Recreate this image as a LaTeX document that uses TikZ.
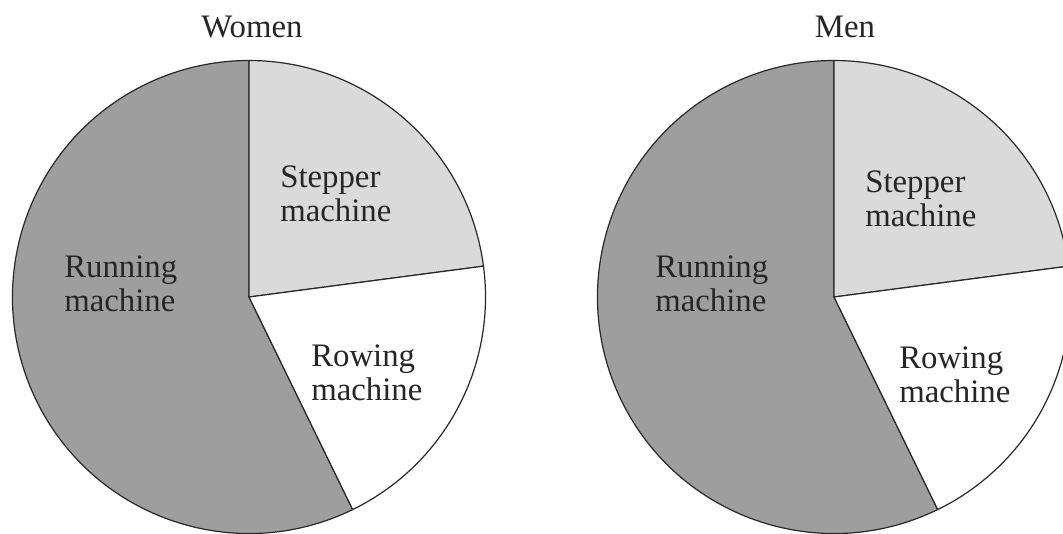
\documentclass[tikz,border=0pt]{standalone}
\usepackage{fontspec}
\setmainfont{Liberation Serif}
\definecolor{runcol}{RGB}{158,158,158}
\definecolor{stepcol}{RGB}{218,218,218}
\definecolor{rowcol}{RGB}{255,255,255}
\definecolor{linecol}{RGB}{40,40,40}
\begin{document}
\begin{tikzpicture}[x=0.75pt,y=0.75pt,
  slice/.style={draw=linecol,line width=0.9pt,line join=round},
  lbl/.style={anchor=base west,inner sep=0pt,align=left,text=black!85,font=\fontsize{24.6}{25.2}\selectfont},
  ttl/.style={anchor=base,inner sep=0pt,text=black!85,font=\fontsize{24.6}{25.2}\selectfont}]
\useasboundingbox (0,0) rectangle (1063,533);
\fill[white] (0,0) rectangle (1063,533);
\clip (0,0) rectangle (1063,533);
% Women pie
\coordinate (wc) at (249,236);
\fill[runcol,slice] (wc) -- ++(-64:236.5) arc[start angle=-64,end angle=-270,radius=236.5] -- cycle;
\fill[stepcol,slice] (wc) -- ++(90:236.5) arc[start angle=90,end angle=7.5,radius=236.5] -- cycle;
\fill[rowcol,slice] (wc) -- ++(7.5:236.5) arc[start angle=7.5,end angle=-64,radius=236.5] -- cycle;
% Men pie
\coordinate (mc) at (834,236);
\fill[runcol,slice] (mc) -- ++(-64:236.5) arc[start angle=-64,end angle=-270,radius=236.5] -- cycle;
\fill[stepcol,slice] (mc) -- ++(90:236.5) arc[start angle=90,end angle=7.5,radius=236.5] -- cycle;
\fill[rowcol,slice] (mc) -- ++(7.5:236.5) arc[start angle=7.5,end angle=-64,radius=236.5] -- cycle;
% Titles
\node[ttl] (wt) at (252,495) {Women};
\node[ttl] (mt) at (845,495) {Men};
% Labels (base = baseline of last line)
\node[lbl] (ws) at (280,312) {Stepper\\machine};
\node[lbl] (wr) at (64,222) {Running\\machine};
\node[lbl] (ww) at (311,133) {Rowing\\machine};
\node[lbl] (ms) at (865,307) {Stepper\\machine};
\node[lbl] (mr) at (655,222) {Running\\machine};
\node[lbl] (mw) at (899,131) {Rowing\\machine};
\end{tikzpicture}
\end{document}
